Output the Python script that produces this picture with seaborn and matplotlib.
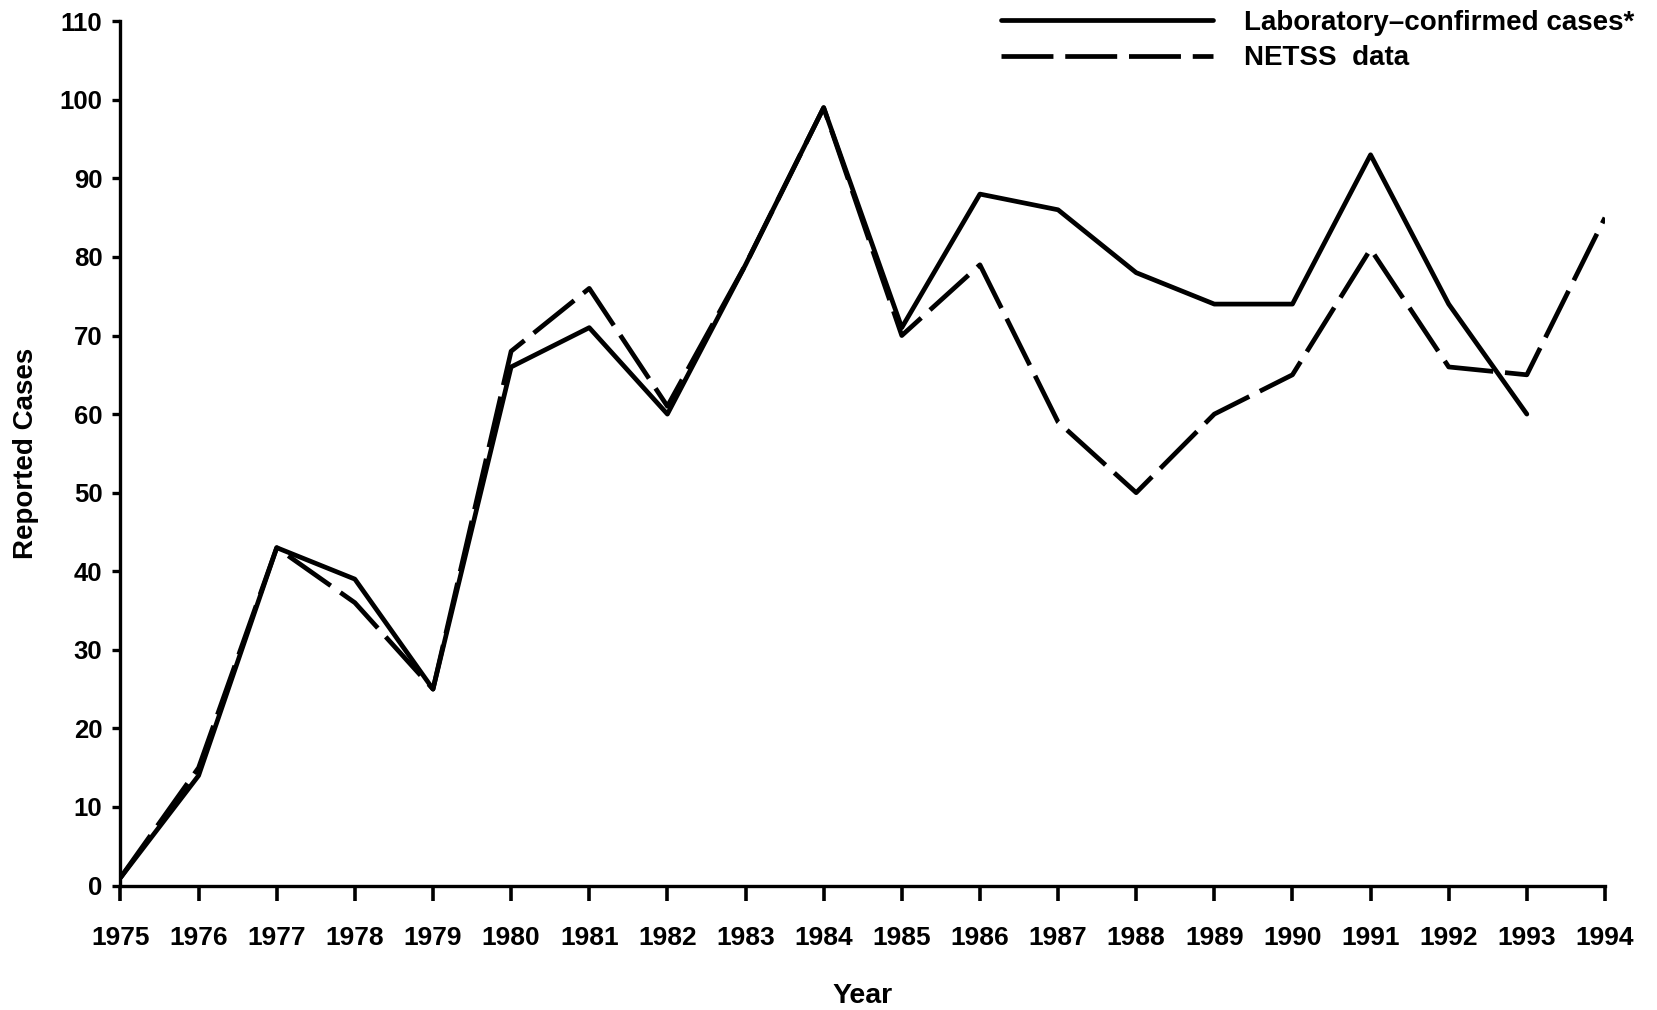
import numpy as np
import pandas as pd
import matplotlib
matplotlib.use('Agg')
import matplotlib.pyplot as plt
import seaborn as sns

# --------------- DATA -----------------
years = list(range(1975, 1995))
lab_cases = [1, 14, 43, 39, 25, 66, 71, 60, 79, 99, 71, 88, 86, 78, 74, 74, 93, 74, 60, np.nan]
netss_cases = [1, 15, 43, 36, 25, 68, 76, 61, 79, 99, 70, 79, 59, 50, 60, 65, 81, 66, 65, 85]
series_names = ["Laboratory\u2013confirmed cases*", "NETSS  data"]
y_ticks = list(range(0, 111, 10))

df = pd.concat([
    pd.DataFrame({'Year': years, 'Cases': lab_cases, 'Series': series_names[0]}),
    pd.DataFrame({'Year': years, 'Cases': netss_cases, 'Series': series_names[1]}),
]).dropna()

# --------------- STYLE -----------------
sns.set_style("ticks")
plt.rcParams['font.family'] = ['Liberation Sans', 'DejaVu Sans']
plt.rcParams['font.weight'] = 'bold'
plt.rcParams['text.color'] = 'black'
plt.rcParams['axes.labelcolor'] = 'black'
plt.rcParams['xtick.color'] = 'black'
plt.rcParams['ytick.color'] = 'black'
plt.rcParams['axes.edgecolor'] = 'black'

fig = plt.figure(figsize=(16.57, 10.10), dpi=100)
ax = fig.add_axes([0.0727, 0.1232, 0.8959, 0.8558])

sns.lineplot(data=df, x='Year', y='Cases', hue='Series', style='Series',
             palette={series_names[0]: 'black', series_names[1]: 'black'},
             dashes={series_names[0]: '', series_names[1]: (11, 2.5)},
             linewidth=3.4, ax=ax)

ax.set_xlim(1975, 1994)
ax.set_ylim(0, 110)
ax.set_xticks(years)
ax.set_xticklabels([str(y) for y in years])
ax.set_yticks(y_ticks)
sns.despine(ax=ax)

for side in ['left', 'bottom']:
    ax.spines[side].set_linewidth(2.4)
ax.tick_params(axis='x', length=11, width=2.6, pad=18, labelsize=19)
ax.tick_params(axis='y', length=6, width=2.4, pad=7, labelsize=18.5)
for lbl in ax.get_xticklabels() + ax.get_yticklabels():
    lbl.set_fontweight('bold')

ax.set_xlabel('Year', fontsize=20.5, fontweight='bold', labelpad=24)
ax.set_ylabel('Reported Cases', fontsize=20, fontweight='bold', labelpad=15)

handles, labels = ax.get_legend_handles_labels()
ax.legend(handles, labels, loc='upper left', bbox_to_anchor=(0.589, 1.015),
          bbox_transform=fig.transFigure, frameon=False,
          handlelength=7.65, handletextpad=1.1, labelspacing=0.34,
          prop={'weight': 'bold', 'size': 20})

fig.savefig('out.png', dpi=100)
